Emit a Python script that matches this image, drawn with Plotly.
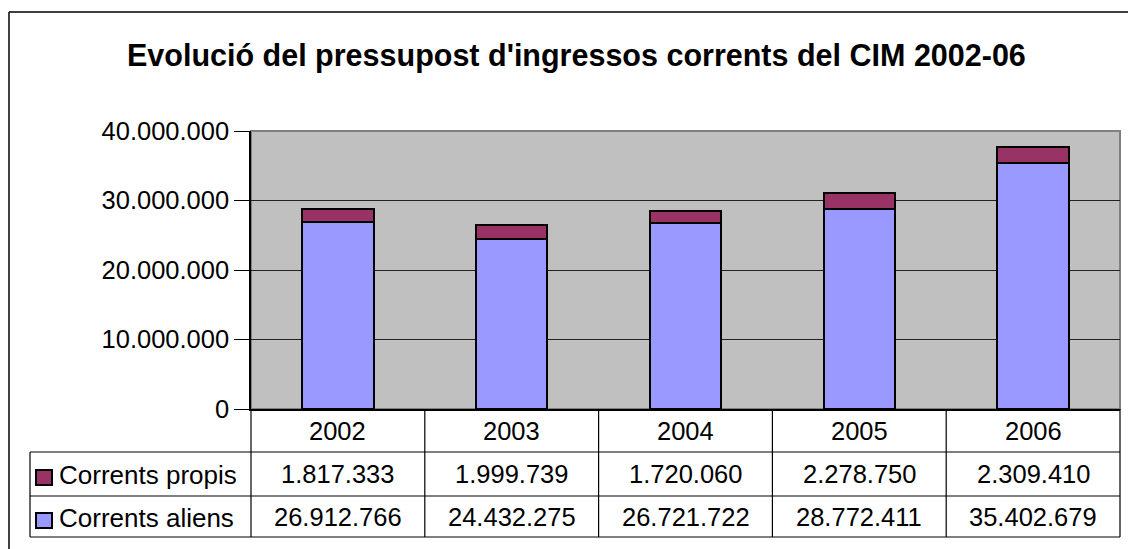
import plotly.graph_objects as go

years = ["2002", "2003", "2004", "2005", "2006"]
corrents_propis = [1817333, 1999739, 1720060, 2278750, 2309410]
corrents_aliens = [26912766, 24432275, 26721722, 28772411, 35402679]
series_names = ["Corrents propis", "Corrents aliens"]
title_text = "Evolució del pressupost d'ingressos corrents del CIM 2002-06"
y_ticks = [0, 10000000, 20000000, 30000000, 40000000]

W, H = 1128, 549
COL_PROPIS = "#993366"
COL_ALIENS = "#9999FF"
FONT = "Liberation Sans, Arial, sans-serif"

def px(x):
    return x / W

def py(y):
    return 1 - y / H

# plot-area box in pixels
PL, PR, PT, PB = 251, 1120, 131, 409
ROW1, ROW2, ROW3 = 452, 496, 537
TL = 30

def fmt(v):
    return f"{v:,}".replace(",", ".")

fig = go.Figure()
fig.add_trace(go.Bar(x=years, y=corrents_aliens, name=series_names[1],
                     marker=dict(color=COL_ALIENS, line=dict(color="black", width=2)),
                     width=0.41))
fig.add_trace(go.Bar(x=years, y=corrents_propis, name=series_names[0],
                     marker=dict(color=COL_PROPIS, line=dict(color="black", width=2)),
                     width=0.41))

shapes = []
# outer chart border (left and top visible)
shapes.append(dict(type="line", xref="paper", yref="paper", x0=px(9), x1=px(9), y0=py(12), y1=py(549),
                   line=dict(color="black", width=1.5)))
shapes.append(dict(type="line", xref="paper", yref="paper", x0=px(9), x1=px(1128), y0=py(12), y1=py(12),
                   line=dict(color="black", width=1.5)))
# plot area gray border
shapes.append(dict(type="rect", xref="paper", yref="paper", x0=px(PL), x1=px(PR), y0=py(PB), y1=py(PT),
                   line=dict(color="#808080", width=2), layer="below"))
# table lines
line_k = dict(color="black", width=1.2)
for yy in [ROW1, ROW2, ROW3]:
    shapes.append(dict(type="line", xref="paper", yref="paper", x0=px(TL), x1=px(PR), y0=py(yy), y1=py(yy), line=line_k))
shapes.append(dict(type="line", xref="paper", yref="paper", x0=px(TL), x1=px(TL), y0=py(ROW1), y1=py(ROW3), line=line_k))
shapes.append(dict(type="line", xref="paper", yref="paper", x0=px(PL), x1=px(PL), y0=py(PB), y1=py(ROW3), line=line_k))
shapes.append(dict(type="line", xref="paper", yref="paper", x0=px(PR), x1=px(PR), y0=py(PB), y1=py(ROW3), line=line_k))
for i in range(len(years) - 1):
    shapes.append(dict(type="line", xref="x", yref="paper", x0=i + 0.5, x1=i + 0.5, y0=py(PB), y1=py(ROW3), line=line_k))
# legend keys
for (ytop, col) in [(470, COL_PROPIS), (513, COL_ALIENS)]:
    shapes.append(dict(type="rect", xref="paper", yref="paper", x0=px(36), x1=px(52), y0=py(ytop + 15), y1=py(ytop),
                       fillcolor=col, line=dict(color="black", width=2)))

annotations = [dict(text=f"<b>{title_text}</b>", xref="paper", yref="paper", x=px(576), y=py(56),
                    showarrow=False, font=dict(size=30.5, color="black", family=FONT),
                    xanchor="center", yanchor="middle")]
tf = dict(size=25.5, color="black", family=FONT)
lf = dict(size=26, color="black", family=FONT)
for i, yr in enumerate(years):
    annotations.append(dict(text=yr, xref="x", yref="paper", x=i, y=py(431), showarrow=False, font=tf,
                            xanchor="center", yanchor="middle"))
    annotations.append(dict(text=fmt(corrents_propis[i]), xref="x", yref="paper", x=i, y=py(474), showarrow=False,
                            font=tf, xanchor="center", yanchor="middle"))
    annotations.append(dict(text=fmt(corrents_aliens[i]), xref="x", yref="paper", x=i, y=py(517), showarrow=False,
                            font=tf, xanchor="center", yanchor="middle"))
annotations.append(dict(text=series_names[0], xref="paper", yref="paper", x=px(57), y=py(475), showarrow=False,
                        font=lf, xanchor="left", yanchor="middle"))
annotations.append(dict(text=series_names[1], xref="paper", yref="paper", x=px(57), y=py(518), showarrow=False,
                        font=lf, xanchor="left", yanchor="middle"))

fig.update_layout(
    width=W, height=H, autosize=False,
    margin=dict(l=0, r=0, t=0, b=0, pad=0, autoexpand=False),
    paper_bgcolor="white", plot_bgcolor="#C0C0C0",
    barmode="stack", showlegend=False,
    separators=",.",
    font=dict(family=FONT, color="black", size=25),
    shapes=shapes, annotations=annotations,
    xaxis=dict(domain=[px(PL), px(PR)], type="category", range=[-0.5, 4.5], automargin=False,
               showticklabels=False, ticks="", showgrid=False,
               showline=True, linecolor="black", linewidth=1.5, zeroline=False, fixedrange=True),
    yaxis=dict(domain=[py(PB), py(PT)], range=[0, 40000000], tickvals=y_ticks, automargin=False,
               tickformat=",.0f", ticks="outside", ticklen=15, tickcolor="black", tickwidth=1.2,
               showline=True, linecolor="black", linewidth=1.5,
               showgrid=True, gridcolor="#222222", gridwidth=1, zeroline=False,
               tickfont=dict(size=25.5, family=FONT, color="black"), fixedrange=True),
)

fig.write_html("out.html", config={"displayModeBar": False},
               post_script="document.body.style.margin='0';document.body.style.overflow='hidden';")
